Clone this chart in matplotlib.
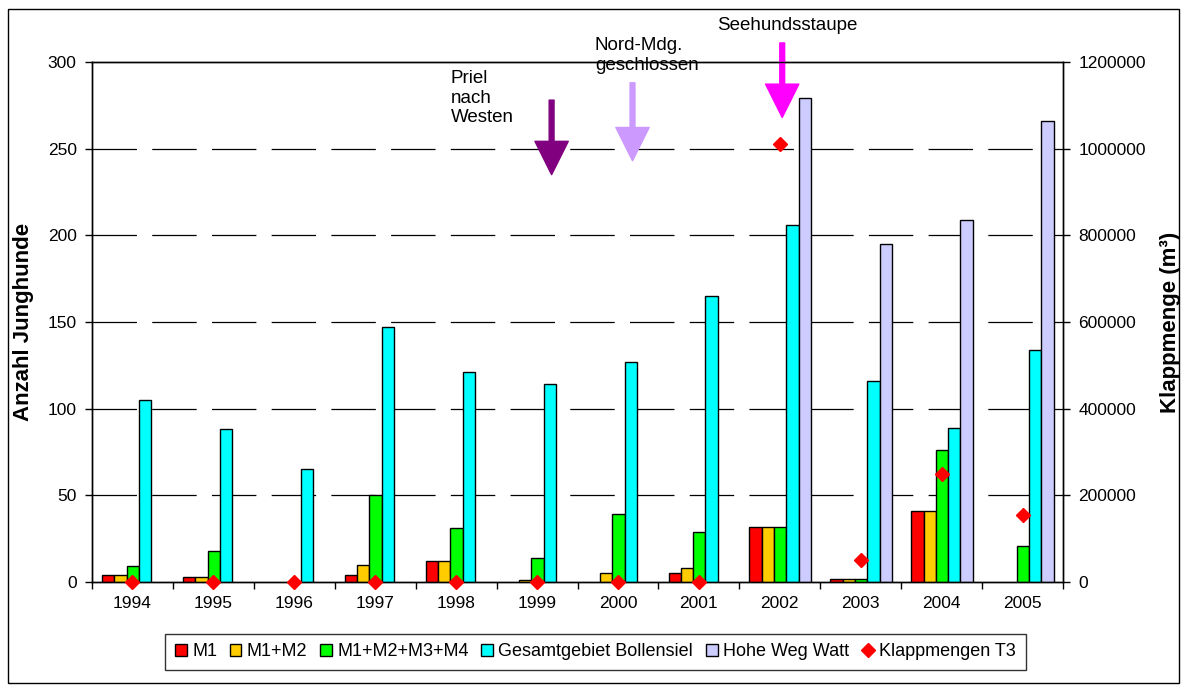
import matplotlib
matplotlib.use("Agg")
import matplotlib.pyplot as plt
import numpy as np
from matplotlib.patches import Patch, Rectangle
from matplotlib.lines import Line2D

plt.rcParams["font.family"] = ["Liberation Sans", "DejaVu Sans"]
plt.rcParams["lines.scale_dashes"] = False

# ── Daten ─────────────────────────────────────────────────────────────────────
jahre = ["1994", "1995", "1996", "1997", "1998", "1999",
         "2000", "2001", "2002", "2003", "2004", "2005"]

m1        = [4, 3, 0, 4, 12, 0, 0, 5, 32, 2, 41, 0]
m1_m2     = [4, 3, 0, 10, 12, 1, 5, 8, 32, 2, 41, 0]
m1_m4     = [9, 18, 0, 50, 31, 14, 39, 29, 32, 2, 76, 21]
bollensiel = [105, 88, 65, 147, 121, 114, 127, 165, 206, 116, 89, 134]
hohe_weg  = [0, 0, 0, 0, 0, 0, 0, 0, 279, 195, 209, 266]
klappmengen = [0, 0, 0, 0, 0, 0, 0, 0, 1010000, 50000, 250000, 155000]

serien = [
    ("M1", m1, "#FF0000"),
    ("M1+M2", m1_m2, "#FFCC00"),
    ("M1+M2+M3+M4", m1_m4, "#00FF00"),
    ("Gesamtgebiet Bollensiel", bollensiel, "#00FFFF"),
    ("Hohe Weg Watt", hohe_weg, "#CCCCFF"),
]

# Ereignisse: (Text, x-Position als Jahresindex, Schaft-Ende, Spitze, Farbe)
ereignisse = [
    ("Priel\nnach\nWesten", 5.18, 278, 235, "#800080"),
    ("Nord-Mdg.\ngeschlossen", 6.18, 288, 243, "#CC99FF"),
    ("Seehundsstaupe", 8.03, 311, 268, "#FF00FF"),
]

W, H = 1183, 690
fig = plt.figure(figsize=(W / 100, H / 100), dpi=100)
ax = fig.add_axes([92 / W, 1 - 582 / H, (1063 - 92) / W, (582 - 62) / H])
ax2 = ax.twinx()

x = np.arange(len(jahre))
breite = 0.152
for k, (name, werte, farbe) in enumerate(serien):
    werte = np.array(werte, dtype=float)
    werte[werte == 0] = np.nan
    ax.bar(x + (k - 2) * breite + 0.005, werte, width=breite, color=farbe,
           edgecolor="black", linewidth=1.0, zorder=3)

ax2.plot(x, klappmengen, linestyle="none", marker="D", markersize=7,
         color="#FF0000", clip_on=False, zorder=5)

# Achsen
ax.set_xlim(-0.5, len(jahre) - 0.5)
ax.set_ylim(0, 300)
ax.set_yticks(np.arange(0, 301, 50))
ax2.set_ylim(0, 1200000)
ax2.set_yticks(np.arange(0, 1200001, 200000))
ax2.set_yticklabels([f"{v:d}" for v in range(0, 1200001, 200000)])

ax.set_xticks(np.arange(-0.5, len(jahre), 1.0))
ax.set_xticklabels([])
ax.set_xticks(x, minor=True)
ax.set_xticklabels(jahre, minor=True)
ax.tick_params(axis="x", which="major", direction="out", length=5, width=1)
ax.tick_params(axis="x", which="minor", length=0, pad=10, labelsize=12.5)
ax.tick_params(axis="y", direction="out", length=5, width=1, labelsize=12.5, pad=6)
ax2.tick_params(axis="y", direction="out", length=5, width=1, labelsize=12.5, pad=6)

for a in (ax, ax2):
    for s in a.spines.values():
        s.set_color("black")
        s.set_linewidth(1.0)

for yv in range(50, 300, 50):
    ax.axhline(yv, color="black", linewidth=0.9, dashes=(32, 11), zorder=1)

ax.set_ylabel("Anzahl Junghunde", fontsize=16, fontweight="bold", labelpad=10)
ax2.set_ylabel("Klappmenge (m³)", fontsize=16, fontweight="bold", labelpad=10)

# Ereignis-Pfeile
for text, xp, schaft, spitze, farbe in ereignisse:
    ax.annotate("", xy=(xp, spitze), xytext=(xp, schaft),
                arrowprops=dict(arrowstyle="simple,head_length=24,head_width=24,tail_width=3.5",
                                mutation_scale=1, color=farbe, shrinkA=0, shrinkB=0),
                annotation_clip=False, zorder=6)

fig.text(451 / W, 1 - 70 / H, ereignisse[0][0], fontsize=13.5, va="top", ha="left",
         linespacing=1.2)
fig.text(595 / W, 1 - 37 / H, ereignisse[1][0], fontsize=13.5, va="top", ha="left",
         linespacing=1.25)
fig.text(717 / W, 1 - 17 / H, ereignisse[2][0], fontsize=13.5, va="top", ha="left")

# Legende
handles = [Patch(facecolor=f, edgecolor="black", linewidth=1.0) for _, _, f in serien]
handles.append(Line2D([], [], linestyle="none", marker="D", markersize=7, color="#FF0000"))
labels = [n for n, _, _ in serien] + ["Klappmengen T3"]
leg = fig.legend(handles, labels, ncol=6, loc="center left",
                 bbox_to_anchor=(165 / W, 1 - 652 / H),
                 fontsize=13, frameon=True, fancybox=False, edgecolor="black",
                 handlelength=0.65, handleheight=0.65, handletextpad=0.3,
                 columnspacing=0.7, borderpad=0.55, borderaxespad=0)
leg.get_frame().set_linewidth(1.0)

# Rahmen um die ganze Grafik
fig.patches.append(Rectangle((8 / W, 1 - 683 / H), (1179 - 8) / W, (683 - 9) / H,
                             transform=fig.transFigure, fill=False,
                             edgecolor="black", linewidth=1.0))

fig.savefig("out.png", dpi=100)
